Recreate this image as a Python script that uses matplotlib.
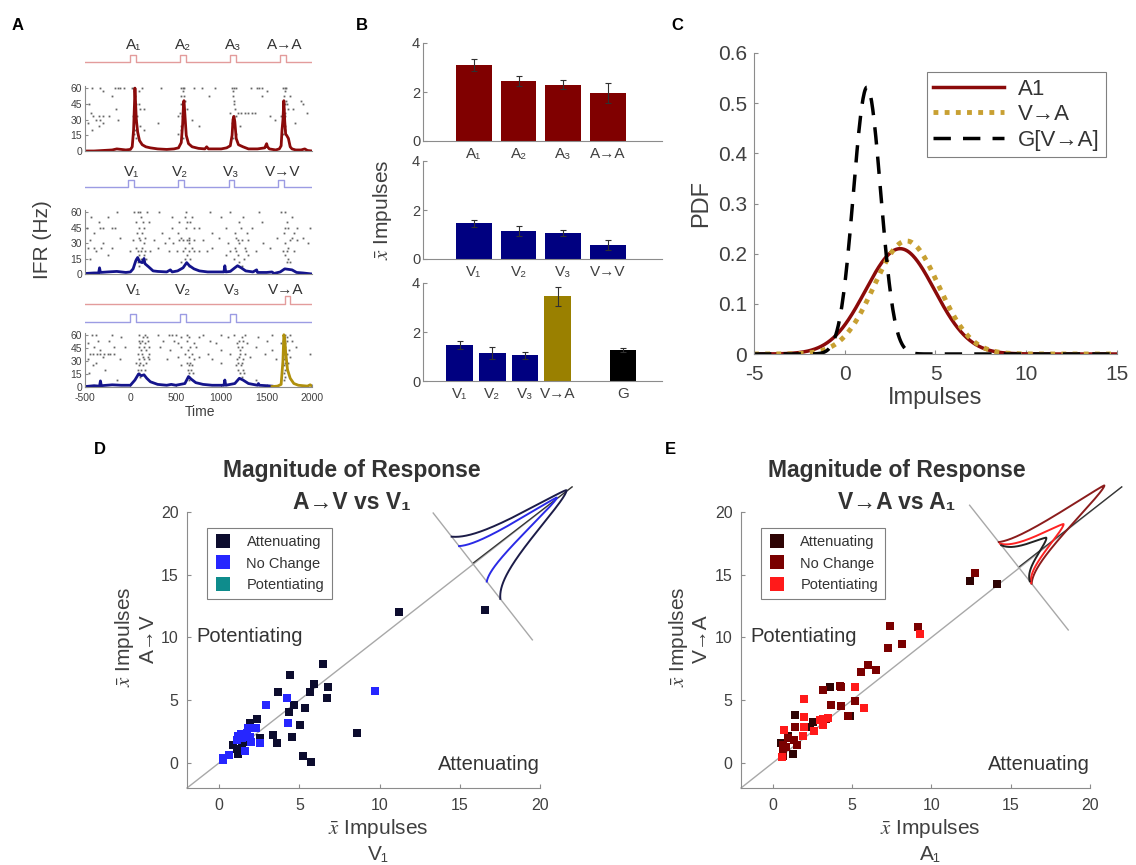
import numpy as np
import matplotlib
matplotlib.use("Agg")
import matplotlib.pyplot as plt
from matplotlib.lines import Line2D

W, H = 1136, 865
plt.rcParams['font.family'] = ['Liberation Sans', 'DejaVu Sans']
plt.rcParams['mathtext.fontset'] = 'stix'
plt.rcParams['axes.unicode_minus'] = False
GRAY = '#8c8c8c'
TXT = '#404040'
XBAR = r'$\bar{x}$ Impulses'

# ---------------- panel A data ----------------
tlim = (-500, 2000)
PULSE_W = 60
a_onsets = [0, 550, 1100, 1650]
a_labels = ['A₁', 'A₂', 'A₃', 'A→A']
a_label_t = [30, 580, 1130, 1700]
v_onsets = [-25, 525, 1085, 1630]
v_labels = ['V₁', 'V₂', 'V₃', 'V→V']
v_label_t = [10, 545, 1110, 1680]
va_v_onsets = [0, 550, 1100]
va_a_onsets = [1700]
va_labels = ['V₁', 'V₂', 'V₃', 'V→A']
va_label_t = [30, 577, 1125, 1705]

r1_rows = [60, 57, 52, 48, 45, 40, 36, 33, 30, 27, 24, 20, 16, 12]
r1_times = [
    [-420, -330, -170, -140, -110, -70, 20, 35, 45, 130, 340, 560, 575, 590, 700, 790, 930, 1120, 1140, 1160, 1330, 1390, 1420, 1450, 1680, 1700, 1715],
    [-300, 40, 90, 575, 1130, 1500, 1700],
    [-200, 50, 560, 590, 870, 1130, 1450, 1690, 1760],
    [55, 600, 1140, 1710, 1880],
    [-460, 60, 100, 560, 1140, 1700, 1720, 1900],
    [-160, 45, 110, 150, 580, 620, 1150, 1690, 1740, 1790],
    [-430, 50, 550, 1100, 1180, 1220, 1260, 1300, 1340, 1370, 1680, 1700, 1950],
    [-410, -350, -300, -240, 30, 70, 520, 570, 1130, 1160, 1540, 1660, 1700],
    [-380, -330, -140, 60, 680, 1140, 1590],
    [-470, -300, 40, 300, 1120, 1690, 1810],
    [-350, 110, 560, 760, 1210, 1700],
    [-420, 50, 150, 560, 1700],
    [40, 520, 1160, 1680],
    [60, 580, 1130],
]
r2_rows = [60, 55, 50, 45, 40, 35, 33, 30, 25, 22, 18, 15, 12, 8]
r2_times = [
    [-150, 40, 80, 110, 180, 320, 610, 880, 1100, 1420, 1660, 1700],
    [-430, -250, 120, 460, 600, 680, 1000, 1240, 1780],
    [-350, 60, 140, 200, 540, 620, 660, 1200, 1450, 1720],
    [-480, -340, -300, -200, -170, 100, 150, 460, 610, 700, 750, 1050, 1220, 1340, 1700, 1740, 1830, 1980],
    [-400, 70, 130, 350, 520, 900, 1150, 1280, 1690, 1800],
    [-120, 90, 160, 430, 560, 640, 980, 1160, 1620, 1780, 1900],
    [-450, 30, 110, 260, 540, 580, 620, 650, 700, 800, 1180, 1230, 1300, 1760, 1840],
    [-300, 150, 380, 470, 640, 1080, 1200, 1460, 1700, 1960],
    [-470, -400, -320, -200, 60, 130, 300, 600, 680, 900, 1150, 1260, 1540, 1740],
    [-380, 0, 80, 120, 160, 220, 420, 510, 580, 640, 700, 760, 840, 1100, 1160, 1270, 1380, 1680, 1720, 1800],
    [-250, 100, 150, 620, 1050, 1180, 1290, 1700],
    [-440, 60, 120, 170, 600, 660, 1140, 1250, 1740],
    [80, 140, 560, 1200, 1720, 1760],
    [100, 640, 1230],
]
r3_rows = [60, 57, 53, 50, 46, 42, 38, 35, 32, 28, 25, 20, 16, 12, 8]
r3_times = [
    [-420, -380, -200, 100, 160, 300, 420, 460, 500, 620, 800, 1000, 1140, 1260, 1560, 1700, 1760],
    [-100, 140, 180, 560, 640, 760, 1080, 1230, 1400, 1690, 1730],
    [-360, -240, 90, 130, 190, 360, 480, 620, 880, 1200, 1240, 1500, 1680, 1720, 1780],
    [-470, 110, 160, 520, 700, 940, 1170, 1280, 1660, 1700],
    [-400, -180, -60, 100, 150, 210, 330, 560, 660, 720, 1180, 1230, 1380, 1700, 1820],
    [-330, 120, 170, 440, 630, 1000, 1210, 1560, 1690, 1750],
    [-450, -410, -370, -330, -290, -250, -220, -180, 80, 130, 200, 600, 680, 850, 1100, 1210, 1260, 1480, 1690, 1720, 1980],
    [-300, 140, 190, 520, 640, 760, 1200, 1320, 1700, 1760],
    [-470, -120, 90, 150, 210, 400, 700, 900, 1170, 1240, 1600, 1690],
    [-380, 60, 110, 170, 620, 660, 1000, 1190, 1230, 1700, 1740],
    [-410, 100, 140, 560, 640, 680, 1160, 1220, 1690],
    [-280, 80, 120, 160, 630, 670, 1180, 1240, 1700, 1720],
    [-460, 90, 640, 690, 1210, 1250, 1690],
    [110, 650, 1230, 1700],
    [-150, 640, 1380, 1690],
]

ifr_a = [(-500, 0), (-400, 0), (-300, 0.5), (-200, 1), (-150, 2), (-100, 1.5), (-50, 1), (0, 1.5),
         (20, 4), (35, 20), (45, 45), (50, 60), (55, 50), (65, 30), (80, 18), (100, 10), (130, 6),
         (170, 4), (220, 3), (300, 2), (400, 1.5), (480, 2), (530, 3), (560, 8), (575, 25), (585, 45),
         (590, 48), (600, 35), (615, 15), (640, 7), (680, 4), (750, 2.5), (820, 2), (840, 4), (860, 2),
         (900, 2), (1000, 2), (1060, 3), (1100, 5), (1120, 15), (1130, 30), (1140, 33), (1150, 28),
         (1165, 12), (1190, 6), (1240, 4), (1300, 2), (1400, 2), (1480, 3), (1500, 7), (1510, 4),
         (1530, 2), (1600, 1), (1640, 2), (1660, 5), (1670, 20), (1680, 30), (1690, 48), (1700, 28),
         (1710, 16), (1720, 15), (1740, 12), (1760, 4), (1780, 2), (1820, 1), (1880, 1), (1920, 2),
         (1950, 0.5), (2000, 0)]
ifr_v = [(-500, 0.5), (-400, 1), (-350, 1), (-340, 6), (-330, 1.5), (-250, 2), (-150, 2.5), (-50, 1.5),
         (0, 2), (30, 5), (60, 13), (80, 16), (100, 12), (130, 11), (150, 15), (160, 10), (200, 7),
         (250, 3), (300, 2.5), (400, 2), (440, 4), (460, 2), (520, 3), (580, 6), (620, 11), (650, 8),
         (700, 5), (760, 3), (850, 2), (950, 2), (1030, 2), (1040, 8), (1050, 2), (1100, 2.5),
         (1150, 6), (1180, 8), (1220, 6), (1270, 3), (1350, 2), (1390, 4), (1400, 1.5), (1500, 1.5),
         (1560, 2), (1580, 0.5), (1650, 2), (1700, 5), (1740, 4.5), (1780, 4), (1830, 1.5),
         (1900, 1), (2000, 0)]
ifr_va_v = [(-500, 0.5), (-400, 1.5), (-340, 1), (-330, 7), (-320, 1.5), (-200, 2.5), (-100, 2), (0, 2),
            (50, 8), (90, 15), (120, 13), (150, 14), (180, 10), (220, 6), (300, 3), (400, 2), (450, 3),
            (500, 2), (600, 4), (640, 12), (670, 9), (720, 5), (800, 3), (900, 2), (1000, 2), (1030, 2),
            (1040, 8), (1050, 2), (1150, 4), (1200, 10), (1240, 8), (1300, 4), (1400, 2), (1410, 4),
            (1420, 2), (1500, 1.5), (1560, 1)]
ifr_va_a = [(1560, 0.5), (1620, 1), (1660, 3), (1680, 30), (1690, 60), (1700, 55), (1710, 40),
            (1730, 20), (1760, 10), (1800, 4), (1850, 2), (1900, 1.5), (1950, 1), (1980, 2.5), (2000, 1)]

# ---------------- panel B data ----------------
b1_labels = ['A₁', 'A₂', 'A₃', 'A→A']
b1_vals = [3.1, 2.45, 2.3, 1.95]
b1_err = [0.25, 0.2, 0.17, 0.4]
b2_labels = ['V₁', 'V₂', 'V₃', 'V→V']
b2_vals = [1.45, 1.15, 1.05, 0.58]
b2_err = [0.15, 0.2, 0.13, 0.2]
b3_labels = ['V₁', 'V₂', 'V₃', 'V→A', 'G']
b3_pos = [1, 2, 3, 4, 6]
b3_vals = [1.48, 1.15, 1.05, 3.45, 1.25]
b3_err = [0.17, 0.25, 0.15, 0.4, 0.08]

# ---------------- panel C data ----------------
pdf_names = ['A1', 'V→A', 'G[V→A]']
pdf_means = [3.05, 3.4, 1.23]
pdf_sds = [1.9, 1.77, 0.75]

# ---------------- panel D / E data ----------------
d_att_x = [11.24, 16.6, 6.5, 4.42, 3.7, 5.92, 5.67, 6.81, 6.71, 4.67, 4.38, 5.36, 5.05, 4.53, 8.58, 3.39,
           3.63, 5.25, 5.71, 2.39, 1.93, 2.56, 0.89, 1.2, 1.56, 1.41, 1.1]
d_att_y = [12.02, 12.2, 7.9, 6.97, 5.65, 6.31, 5.65, 6.05, 5.2, 4.6, 4.02, 4.41, 3.01, 2.09, 2.38, 2.22,
           1.59, 0.58, 0.05, 3.49, 3.22, 1.96, 1.45, 0.71, 1.64, 1.24, 1.11]
d_noc_x = [9.72, 2.91, 4.22, 4.32, 2.56, 2.28, 1.83, 1.72, 1.35, 1.41, 1.1, 1.62, 1.99, 0.62, 0.27, 0.23, 1.2, 1.93]
d_noc_y = [5.71, 4.6, 5.15, 3.17, 1.56, 2.75, 2.75, 2.38, 2.3, 1.96, 1.85, 0.98, 1.64, 0.63, 0.37, 0.26, 2.17, 2.03]

e_att_x = [14.15, 12.42, 3.62, 1.41, 1.26, 4.88, 2.57, 2.32, 0.95, 0.53]
e_att_y = [14.25, 14.47, 6.04, 3.82, 0.70, 3.74, 3.29, 2.83, 2.14, 1.55]
e_noc_x = [12.74, 7.37, 9.16, 7.26, 8.17, 6.0, 5.58, 6.48, 4.21, 4.32, 3.16, 3.68, 4.32, 5.16, 4.74, 3.37,
           1.43, 1.52, 1.37, 0.95, 0.63, 0.63, 0.67, 0.84]
e_noc_y = [15.1, 10.9, 10.86, 9.17, 9.44, 7.83, 7.22, 7.38, 6.15, 6.04, 5.83, 4.63, 4.55, 4.97, 3.74, 3.48,
           2.83, 1.42, 1.82, 1.95, 1.42, 0.88, 0.53, 1.28]
e_pot_x = [9.26, 5.16, 5.73, 1.96, 1.96, 1.96, 1.89, 2.63, 2.95, 3.2, 3.47, 0.74, 0.59, 3.16]
e_pot_y = [10.24, 6.04, 4.41, 5.08, 3.64, 2.83, 2.14, 2.57, 3.42, 3.02, 3.56, 2.62, 0.48, 3.48]

groups = ['Attenuating', 'No Change', 'Potentiating']
d_colors = ['#0c0c2e', '#2626ff', '#0e8c8c']
e_colors = ['#2e0404', '#7a0000', '#ff1a1a']

# inset density outlines: (peak offset, height, upper-left end, lower-right end) in px along the diagonal frame
d_inset = [(0, 119, 34, -45), (0, 107, 22, -23)]
d_inset_colors = ['#1c1c48', '#2a2ae6']
e_inset = [(11, 118, 32, -21), (6, 62, 30, -20), (6, 40, 28, -18)]
e_inset_colors = ['#8b1c1c', '#ff2222', '#222222']


def rect(l, t, r, b):
    return [l / W, 1 - b / H, (r - l) / W, (b - t) / H]


def style(ax, fs):
    for s in ['top', 'right']:
        ax.spines[s].set_visible(False)
    for s in ['left', 'bottom']:
        ax.spines[s].set_color(GRAY)
        ax.spines[s].set_linewidth(0.8)
    ax.tick_params(direction='in', length=3, width=0.8, color=GRAY, labelcolor=TXT, labelsize=fs, pad=2)


fig = plt.figure(figsize=(W / 100, H / 100), dpi=100)

# ---------------- A ----------------
def pulse_trace(ax, onsets, base, height, color):
    xs, ys = [tlim[0]], [base]
    for on in onsets:
        xs += [on, on, on + PULSE_W, on + PULSE_W]
        ys += [base, base + height, base + height, base]
    xs.append(tlim[1])
    ys.append(base)
    ax.plot(xs, ys, color=color, lw=1)


def stim_labels(ax, ts, labels, y):
    for t, lab in zip(ts, labels):
        ax.text(t, y, lab, ha='center', va='center', fontsize=11, color='#333333')


PINK, LBLUE = '#e39c9c', '#9c9ce3'
s1 = fig.add_axes(rect(85, 36, 312, 66))
s1.set_xlim(tlim); s1.set_ylim(0, 30); s1.axis('off')
pulse_trace(s1, a_onsets, 4, 7, PINK)
stim_labels(s1, a_label_t, a_labels, 21)

s2 = fig.add_axes(rect(85, 161, 312, 191))
s2.set_xlim(tlim); s2.set_ylim(0, 30); s2.axis('off')
pulse_trace(s2, v_onsets, 4, 7, LBLUE)
stim_labels(s2, v_label_t, v_labels, 19)

s3 = fig.add_axes(rect(85, 278, 312, 328))
s3.set_xlim(tlim); s3.set_ylim(0, 50); s3.axis('off')
pulse_trace(s3, va_a_onsets, 24, 8, PINK)
pulse_trace(s3, va_v_onsets, 6, 8, LBLUE)
stim_labels(s3, va_label_t, va_labels, 38)


def raster(box, rows, times, traces, last=False):
    ax = fig.add_axes(rect(*box))
    style(ax, 7.5)
    ax.tick_params(length=2)
    ax.tick_params(axis='x', pad=4)
    for y, ts in zip(rows, times):
        ax.plot(ts, [y] * len(ts), ls='none', marker='s', ms=1.3, mew=0, color='#666666')
    for pts, col in traces:
        t, v = zip(*pts)
        ax.plot(t, v, color=col, lw=2.0)
    ax.set_xlim(tlim)
    ax.set_ylim(0, 62)
    ax.set_yticks([0, 15, 30, 45, 60])
    if last:
        ax.set_xticks([-500, 0, 500, 1000, 1500, 2000])
    else:
        ax.set_xticks([])
    return ax


raster((85, 86, 312, 151), r1_rows, r1_times, [(ifr_a, '#8b0a0a')])
raster((85, 210, 312, 274), r2_rows, r2_times, [(ifr_v, '#14148c')])
raster((85, 333, 312, 387), r3_rows, r3_times, [(ifr_va_v, '#14148c'), (ifr_va_a, '#b0900c')], last=True)
fig.text(200 / W, 1 - 412 / H, 'Time', ha='center', va='center', fontsize=10, color=TXT)
fig.text(42 / W, 1 - 240 / H, 'IFR (Hz)', rotation=90, ha='center', va='center', fontsize=15, color=TXT)

# ---------------- B ----------------
def bars(box, pos, vals, err, labels, colors, xlim, width):
    ax = fig.add_axes(rect(*box))
    style(ax, 10.5)
    ax.bar(pos, vals, width=width, color=colors, edgecolor='none')
    ax.errorbar(pos, vals, yerr=err, fmt='none', ecolor='#303030', elinewidth=0.8, capsize=2, capthick=0.8)
    ax.set_xlim(xlim)
    ax.set_ylim(0, 4)
    ax.set_yticks([0, 2, 4])
    ax.set_xticks(pos)
    ax.set_xticklabels(labels, fontsize=11)
    ax.tick_params(axis='x', length=0, pad=4)
    return ax


DRED, NAVY, OLIVE = '#800000', '#000080', '#9a8000'
bars((423, 43, 662, 141), [1, 2, 3, 4], b1_vals, b1_err, b1_labels, [DRED] * 4, (-0.14, 5.21), 0.8)
bars((423, 161, 662, 259), [1, 2, 3, 4], b2_vals, b2_err, b2_labels, [NAVY] * 4, (-0.14, 5.21), 0.8)
bars((423, 283, 662, 381), b3_pos, b3_vals, b3_err, b3_labels, [NAVY, NAVY, NAVY, OLIVE, 'black'],
     (-0.13, 7.2), 0.82)
fig.text(383 / W, 1 - 210 / H, XBAR, rotation=90, ha='center', va='center', fontsize=15, color=TXT)

# ---------------- C ----------------
axc = fig.add_axes(rect(754, 53, 1117, 354))
style(axc, 15)
axc.tick_params(axis='x', pad=8)
axc.tick_params(axis='y', pad=5)
xs = np.linspace(-5, 15, 600)
c_styles = [dict(color='#8b0a0a', lw=2.5, ls='-'),
            dict(color='#c8a032', lw=3.5, ls=(0, (1, 1.3))),
            dict(color='black', lw=2.5, ls=(0, (5, 3.5)))]
for name, mu, sd, st in zip(pdf_names, pdf_means, pdf_sds, c_styles):
    pdf = np.exp(-0.5 * ((xs - mu) / sd) ** 2) / (sd * np.sqrt(2 * np.pi))
    axc.plot(xs, pdf, label=name, **st)
axc.set_xlim(-5, 15)
axc.set_ylim(0, 0.6)
axc.set_xticks([-5, 0, 5, 10, 15])
axc.set_yticks([0, 0.1, 0.2, 0.3, 0.4, 0.5, 0.6])
axc.set_yticklabels(['0', '0.1', '0.2', '0.3', '0.4', '0.5', '0.6'])
axc.set_xlabel('Impulses', fontsize=17, color=TXT, labelpad=2)
axc.set_ylabel('PDF', fontsize=17, color=TXT, labelpad=4)
leg = axc.legend(loc='upper right', bbox_to_anchor=(0.97, 0.937), borderaxespad=0, fontsize=16,
                 handlelength=3.2, fancybox=False, framealpha=1, edgecolor='#808080',
                 borderpad=0.3, labelspacing=0.2, handletextpad=0.6)
leg.get_frame().set_linewidth(0.8)
for t in leg.get_texts():
    t.set_color('#333333')

# ---------------- D / E ----------------
def bump(u, pk, h, hi, lo):
    upper = u >= pk
    span = np.where(upper, hi - pk, pk - lo)
    p = np.where(upper, 1.3, 1.6)
    z = np.abs(u - pk) / span * 2.0
    eb = np.exp(-(2.0 ** p))
    return h * (np.exp(-z ** p) - eb) / (1 - eb)


def scatter_panel(box, xs_list, ys_list, colors, inset, inset_colors, center, perp, title2,
                  title_x, xl2, yl2, ylab_x):
    l, t, r, b = box
    ax = fig.add_axes(rect(*box))
    style(ax, 11.5)
    ax.tick_params(axis='x', pad=7)
    ax.tick_params(axis='y', pad=6)
    ax.set_xlim(-2, 20)
    ax.set_ylim(-2, 20)
    ax.set_xticks([0, 5, 10, 15, 20])
    ax.set_yticks([0, 5, 10, 15, 20])

    sx = (r - l) / 22.0
    sy = (b - t) / 22.0
    n = np.hypot(sx, sy)
    dvec = np.array([sx, sy]) / n
    pvec = np.array([-sy, sx]) / n

    def to_data(u, v):
        px = u * pvec[0] + v * dvec[0]
        py = u * pvec[1] + v * dvec[1]
        return center[0] + px / sx, center[1] + py / sy

    ax.plot([-2, 22], [-2, 22], color='#a8a8a8', lw=1, clip_on=False, zorder=1)
    ax.plot([center[0], 22], [center[1], 22], color='#333333', lw=0.9, clip_on=False, zorder=1)
    px_, py_ = to_data(np.array(perp), np.array([0, 0]))
    ax.plot(px_, py_, color='#a8a8a8', lw=1, clip_on=False, zorder=1)
    for (pk, h, hi, lo), col in zip(inset, inset_colors):
        u = np.linspace(lo, hi, 300)
        v = bump(u, pk, h, hi, lo)
        cx, cy = to_data(u, v)
        ax.plot(cx, cy, color=col, lw=1.4, clip_on=False, zorder=2)

    for x, y, c, g in zip(xs_list, ys_list, colors, groups):
        ax.scatter(x, y, s=30, marker='s', color=c, lw=0, zorder=3)
    handles = [Line2D([], [], ls='none', marker='s', ms=10, mew=0, color=c) for c in colors]
    lg = ax.legend(handles, groups, loc='upper left', bbox_to_anchor=(0.057, 0.942), borderaxespad=0,
                   fontsize=10.5, fancybox=False, framealpha=1, edgecolor='#808080',
                   handletextpad=1.0, borderpad=0.5, labelspacing=0.5, handlelength=1.2)
    lg.get_frame().set_linewidth(0.8)
    for tx in lg.get_texts():
        tx.set_color('#333333')

    ax.text(-1.4, 10.1, 'Potentiating', fontsize=14.5, color='#333333', va='center', ha='left')
    ax.text(20, -0.1, 'Attenuating', fontsize=14.5, color='#333333', va='center', ha='right')

    fig.text(title_x / W, 1 - 471 / H, 'Magnitude of Response', ha='center', va='center',
             fontsize=16.5, fontweight='bold', color='#333333')
    fig.text(title_x / W, 1 - 502 / H, title2, ha='center', va='center',
             fontsize=16.5, fontweight='bold', color='#333333')
    xc = (l + r) / 2 + 15
    fig.text(xc / W, 1 - 828 / H, XBAR, ha='center', va='center', fontsize=15, color=TXT)
    fig.text(xc / W, 1 - 855 / H, xl2, ha='center', va='center', fontsize=15, color=TXT)
    fig.text(ylab_x / W, 1 - 637 / H, XBAR, rotation=90, ha='center', va='center', fontsize=15, color=TXT)
    fig.text((ylab_x + 23) / W, 1 - 639 / H, yl2, rotation=90, ha='center', va='center', fontsize=15, color=TXT)
    return ax


scatter_panel((187, 512, 540, 788), [d_att_x, d_noc_x, []], [d_att_y, d_noc_y, []], d_colors,
              d_inset, d_inset_colors, (15.8, 15.9), [64, -97], 'A→V vs V₁', 352, 'V₁', 'A→V', 125)
scatter_panel((741, 512, 1090, 788), [e_att_x, e_noc_x, e_pot_x], [e_att_y, e_noc_y, e_pot_y], e_colors,
              e_inset, e_inset_colors, (15.5, 15.6), [79, -80], 'V→A vs A₁', 897, 'A₁', 'V→A', 678)

# panel letters
for lab, x, y in [('A', 18, 26), ('B', 362, 25), ('C', 677, 25), ('D', 100, 449), ('E', 670, 449)]:
    fig.text(x / W, 1 - y / H, lab, ha='center', va='center', fontsize=12, fontweight='bold')

fig.savefig('out.png', dpi=100)
